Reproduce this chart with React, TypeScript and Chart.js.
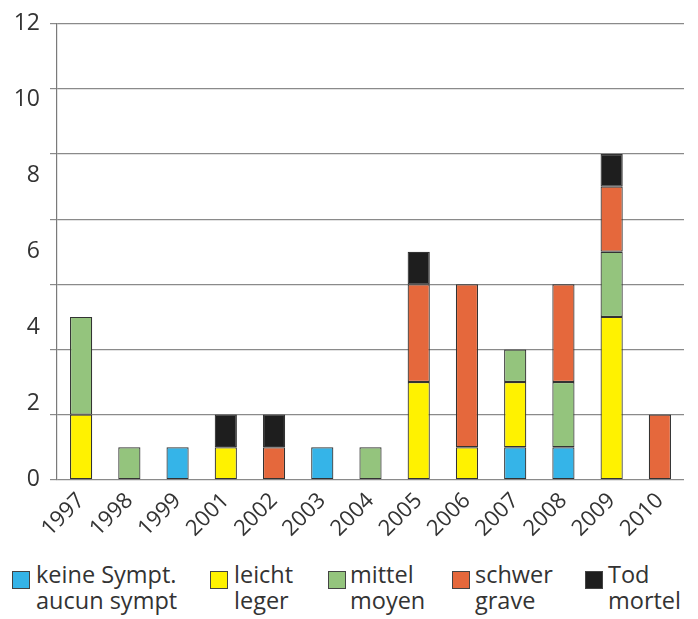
import React, { useEffect, useRef } from "react";
import { Chart, registerables } from "chart.js";

Chart.register(...registerables);

const categories = ["1997", "1998", "1999", "2001", "2002", "2003", "2004", "2005", "2006", "2007", "2008", "2009", "2010"];
const keineSympt = [null, null, 1, null, null, 1, null, null, null, 1, 1, null, null];
const leicht = [2, null, null, 1, null, null, null, 3, 1, 2, null, 5, null];
const mittel = [3, 1, null, null, null, null, 1, null, null, 1, 2, 2, null];
const schwer = [null, null, null, null, 1, null, null, 3, 5, null, 3, 2, 2];
const tod = [null, null, null, 1, 1, null, null, 1, null, null, null, 1, null];
const yTickLabels = [0, 2, 4, 6, 8, 10, 12];

const legendItems = [
  { de: "keine Sympt.", fr: "aucun sympt", color: "#35b4e8", boxX: 12, textX: 36 },
  { de: "leicht", fr: "leger", color: "#fff200", boxX: 210, textX: 234 },
  { de: "mittel", fr: "moyen", color: "#94c47d", boxX: 328, textX: 350 },
  { de: "schwer", fr: "grave", color: "#e5683c", boxX: 452, textX: 475 },
  { de: "Tod", fr: "mortel", color: "#1e1e1e", boxX: 585, textX: 608 },
];

const FONT = "'Open Sans', 'Noto Sans', sans-serif";

export default function App() {
  const ref = useRef<HTMLCanvasElement | null>(null);

  useEffect(() => {
    if (!ref.current) return;
    const series = [keineSympt, leicht, mittel, schwer, tod];
    const chart = new Chart(ref.current, {
      type: "bar",
      data: {
        labels: categories,
        datasets: series.map((d, i) => ({
          label: legendItems[i].de,
          data: d as any,
          backgroundColor: legendItems[i].color,
          borderColor: "#333",
          borderWidth: 1.2,
          borderSkipped: false,
          barPercentage: 0.46,
          categoryPercentage: 1,
          yAxisID: "y",
        })),
      },
      options: {
        animation: false,
        responsive: false,
        layout: { padding: { top: 17, right: 14, left: 0, bottom: 0 } },
        plugins: { legend: { display: false }, tooltip: { enabled: false } },
        scales: {
          x: {
            stacked: true,
            grid: { display: false },
            border: { display: false },
            ticks: {
              minRotation: 45,
              maxRotation: 45,
              autoSkip: false,
              color: "#333",
              font: { family: FONT, size: 22 },
              padding: 0,
            },
          },
          y: {
            stacked: true,
            position: "left",
            weight: 0,
            min: 0,
            max: 14,
            ticks: { stepSize: 2, display: false },
            grid: { color: "#8a8a8a", lineWidth: 1.2, tickLength: 7, drawTicks: true },
            border: { display: true, color: "#7a7a7a", width: 1.2 },
            afterFit: (s: any) => { s.width = 7; },
          },
          yl: {
            position: "left",
            weight: 1,
            min: 0,
            max: 12,
            afterBuildTicks: (s: any) => { s.ticks = yTickLabels.map((v) => ({ value: v })); },
            ticks: { color: "#333", font: { family: FONT, size: 23 }, padding: 10 },
            grid: { display: false, drawTicks: false },
            border: { display: false },
            afterFit: (s: any) => { s.width = 50; },
          },
        },
      },
    });
    return () => chart.destroy();
  }, []);

  return (
    <div style={{ position: "absolute", left: 0, top: 0, width: 698, height: 619, background: "#fff", overflow: "hidden", fontFamily: FONT }}>
      <canvas ref={ref} width={698} height={542} style={{ position: "absolute", left: 0, top: 0 }} />
      {legendItems.map((it) => (
        <React.Fragment key={it.de}>
          <div style={{ position: "absolute", left: it.boxX, top: 571, width: 16, height: 16, background: it.color, border: "1px solid #444" }} />
          <div style={{ position: "absolute", left: it.textX, top: 561, fontSize: 23.5, lineHeight: "26px", color: "#333", whiteSpace: "nowrap" }}>
            {it.de}
            <br />
            {it.fr}
          </div>
        </React.Fragment>
      ))}
    </div>
  );
}
